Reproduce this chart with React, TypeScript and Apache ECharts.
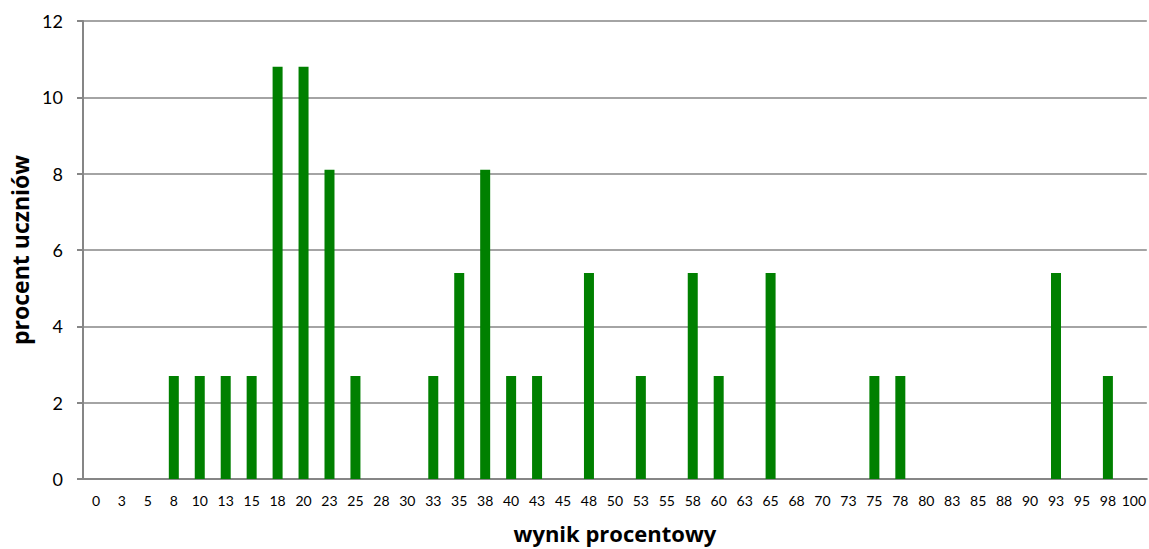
import React, { useEffect, useRef } from "react";
import * as echarts from "echarts";

const categories = ["0","3","5","8","10","13","15","18","20","23","25","28","30","33","35","38","40","43","45","48","50","53","55","58","60","63","65","68","70","73","75","78","80","83","85","88","90","93","95","98","100"];
const values = [0,0,0,2.7,2.7,2.7,2.7,10.8,10.8,8.1,2.7,0,0,2.7,5.4,8.1,2.7,2.7,0,5.4,0,2.7,0,5.4,2.7,0,5.4,0,0,0,2.7,2.7,0,0,0,0,0,5.4,0,2.7,0];
const yTicks = [0, 2, 4, 6, 8, 10, 12];

const FONT = "Lato, 'Open Sans', sans-serif";
const TITLE_FONT = "'Open Sans', sans-serif";

export default function App() {
  const ref = useRef<HTMLDivElement>(null);
  useEffect(() => {
    const chart = echarts.init(ref.current!, null, { renderer: "svg" });
    chart.setOption({
      animation: false,
      backgroundColor: "#ffffff",
      grid: { left: 83, right: 0, top: 21, bottom: 68 },
      xAxis: {
        type: "category",
        data: categories,
        name: "wynik procentowy",
        nameLocation: "middle",
        nameGap: 43,
        nameTextStyle: { fontFamily: TITLE_FONT, fontWeight: "bold", fontSize: 22, color: "#000" },
        axisLine: { lineStyle: { color: "#868686", width: 2 } },
        axisTick: { show: false },
        axisLabel: { interval: 0, fontFamily: FONT, fontSize: 14, color: "#000", margin: 14 },
      },
      yAxis: {
        type: "value",
        min: yTicks[0],
        max: yTicks[yTicks.length - 1],
        interval: 2,
        name: "procent uczniów",
        nameLocation: "middle",
        nameGap: 43,
        nameRotate: 90,
        nameTextStyle: { fontFamily: TITLE_FONT, fontWeight: "bold", fontSize: 23, color: "#000" },
        axisLine: { show: true, lineStyle: { color: "#868686", width: 2 } },
        axisTick: { show: true, length: 6, lineStyle: { color: "#868686", width: 2 } },
        splitLine: { lineStyle: { color: "#868686", width: 1.5 } },
        axisLabel: { fontFamily: FONT, fontSize: 18, color: "#000", margin: 20 },
      },
      series: [
        {
          type: "bar",
          data: values,
          barWidth: 10,
          itemStyle: { color: "#008000" },
        },
      ],
    });
    return () => chart.dispose();
  }, []);
  return <div ref={ref} style={{ position: "fixed", left: 0, top: 0, width: 1149, height: 549 }} />;
}
